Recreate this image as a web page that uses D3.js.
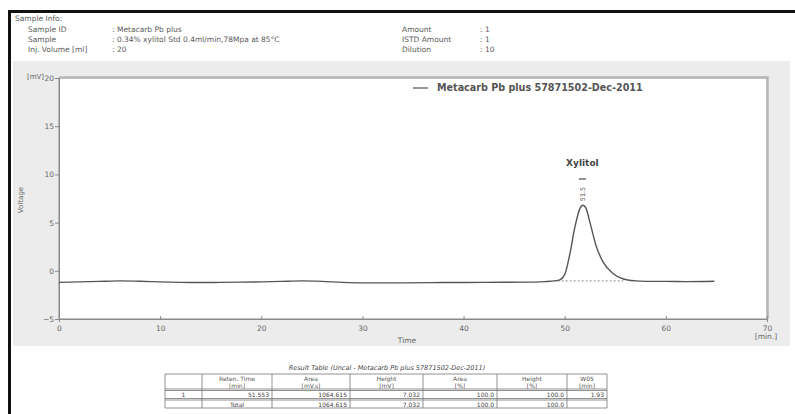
<!DOCTYPE html>
<html><head><meta charset="utf-8">
<script src="https://cdn.jsdelivr.net/npm/d3@7"></script>
<style>
html,body{margin:0;padding:0;background:#fff;}
svg text{font-family:"DejaVu Sans",Verdana,sans-serif;}
</style></head>
<body>
<svg id="c" width="795" height="414"></svg>
<script>
// ---- data ----
const times   = [0, 2, 4, 6, 8, 10, 12, 14, 16, 18, 20, 22, 24, 26, 28, 30, 34, 38, 42, 46, 48, 49, 49.5, 50, 50.5, 51, 51.5, 51.8, 52.1, 52.5, 53.1, 53.8, 54.8, 55.8, 57, 58, 60, 62, 64.8];
const voltage = [-1.2, -1.15, -1.1, -1.05, -1.08, -1.15, -1.2, -1.22, -1.2, -1.18, -1.15, -1.1, -1.05, -1.1, -1.2, -1.25, -1.25, -1.22, -1.2, -1.18, -1.12, -1.05, -0.95, -0.4, 1.7, 4.5, 6.45, 6.8, 6.5, 5.0, 2.6, 0.9, -0.3, -0.85, -1.05, -1.1, -1.1, -1.12, -1.08];
const baselineStart = 49.3, baselineEnd = 55.8, baselineLevel = -1.05;
const peakName = "Xylitol", peakTime = 51.55, peakLabel = "51.5";
const xTicks = [0, 10, 20, 30, 40, 50, 60, 70];
const yTicks = [-5, 0, 5, 10, 15, 20];
const seriesName = "Metacarb Pb plus 57871502-Dec-2011";
const infoLeftKeys = ["Sample ID", "Sample", "Inj. Volume [ml]"];
const infoLeftVals = [": Metacarb Pb plus", ": 0.34% xylitol Std  0.4ml/min,78Mpa at 85°C", ": 20"];
const infoRightKeys = ["Amount", "ISTD Amount", "Dilution"];
const infoRightVals = [": 1", ": 1", ": 10"];
const tableTitle = "Result Table (Uncal - Metacarb Pb plus 57871502-Dec-2011)";
const tableHead1 = ["", "Reten. Time", "Area", "Height", "Area", "Height", "W05"];
const tableHead2 = ["", "[min]", "[mV.s]", "[mV]", "[%]", "[%]", "[min]"];
const tableRow1 = ["1", "51.553", "1064.615", "7.032", "100.0", "100.0", "1.93"];
const tableRow2 = ["", "Total", "1064.615", "7.032", "100.0", "100.0", ""];

// ---- layout ----
const svg = d3.select("#c");
const txt = "#5a5a5a";
const L = 59, R = 767, T = 78, B = 319;

// black frame
svg.append("rect").attr("x", 8).attr("y", 10).attr("width", 3).attr("height", 404).attr("fill", "#111");
svg.append("rect").attr("x", 8).attr("y", 10).attr("width", 787).attr("height", 3).attr("fill", "#111");

// header info
svg.append("text").attr("x", 15).attr("y", 21).attr("font-size", 7.5).attr("fill", txt).text("Sample Info:");
infoLeftKeys.forEach((k, i) => {
  svg.append("text").attr("x", 28).attr("y", 32 + i * 10).attr("font-size", 7.5).attr("fill", txt).text(k);
  svg.append("text").attr("x", 112).attr("y", 32 + i * 10).attr("font-size", 7.5).attr("fill", txt).text(infoLeftVals[i]);
});
infoRightKeys.forEach((k, i) => {
  svg.append("text").attr("x", 402).attr("y", 32 + i * 10).attr("font-size", 7.5).attr("fill", txt).text(k);
  svg.append("text").attr("x", 480).attr("y", 32 + i * 10).attr("font-size", 7.5).attr("fill", txt).text(infoRightVals[i]);
});

// grey panel
svg.append("rect").attr("x", 13).attr("y", 61).attr("width", 777).attr("height", 285).attr("fill", "#ececec");
// plot area
svg.append("rect").attr("x", L).attr("y", T).attr("width", R - L).attr("height", B - T)
  .attr("fill", "#fff").attr("stroke", "#9a9a9a").attr("stroke-width", 1.2);
svg.append("path").attr("d", `M${L},${T - 1}H${R + 1}V${B}`).attr("fill", "none").attr("stroke", "#b5b5b5").attr("stroke-width", 1.5);

const x = d3.scaleLinear().domain([0, 70]).range([L, R]);
const y = d3.scaleLinear().domain([-5, 20]).range([B, T]);

// axes
const xAxis = svg.append("g").attr("transform", `translate(0,${B})`)
  .call(d3.axisBottom(x).tickValues(xTicks).tickSize(3).tickPadding(2));
const yAxis = svg.append("g").attr("transform", `translate(${L},0)`)
  .call(d3.axisLeft(y).tickValues(yTicks).tickSize(4).tickPadding(1));
[xAxis, yAxis].forEach(g => {
  g.select(".domain").attr("stroke", "#8a8a8a");
  g.selectAll(".tick line").attr("stroke", "#8a8a8a");
  g.selectAll(".tick text").attr("fill", "#666").attr("font-size", 7.5)
    .attr("font-family", "DejaVu Sans, sans-serif");
});
xAxis.selectAll(".tick line").attr("y2", -3);
xAxis.selectAll(".tick text").attr("dy", "0.9em");
svg.append("text").attr("x", 27).attr("y", 79).attr("font-size", 7).attr("fill", "#666").text("[mV]");
svg.append("text").attr("transform", "translate(23,200) rotate(-90)").attr("text-anchor", "middle")
  .attr("font-size", 7).attr("fill", "#666").text("Voltage");
svg.append("text").attr("x", 407).attr("y", 343).attr("text-anchor", "middle").attr("font-size", 7.5).attr("fill", "#666").text("Time");
svg.append("text").attr("x", 766).attr("y", 339).attr("text-anchor", "middle").attr("font-size", 7.5).attr("fill", "#666").text("[min.]");

// baseline (dotted)
svg.append("line").attr("x1", x(baselineStart)).attr("x2", x(baselineEnd))
  .attr("y1", y(baselineLevel)).attr("y2", y(baselineLevel))
  .attr("stroke", "#888").attr("stroke-width", 1).attr("stroke-dasharray", "2,2");

// trace
const data = times.map((t, i) => [t, voltage[i]]);
svg.append("path").datum(data)
  .attr("d", d3.line().x(d => x(d[0])).y(d => y(d[1])).curve(d3.curveMonotoneX))
  .attr("fill", "none").attr("stroke", "#555").attr("stroke-width", 1.4);

// peak annotation
const px = x(peakTime) + 2;
svg.append("text").attr("x", px).attr("y", 166).attr("text-anchor", "middle")
  .attr("font-size", 9).attr("font-weight", "bold").attr("fill", "#444").text(peakName);
svg.append("line").attr("x1", px - 3.5).attr("x2", px + 3.5).attr("y1", 179).attr("y2", 179)
  .attr("stroke", "#555").attr("stroke-width", 1.3);
svg.append("text").attr("transform", `translate(${px + 2.5},194) rotate(-90)`).attr("text-anchor", "middle")
  .attr("font-size", 6.5).attr("fill", "#555").text(peakLabel);

// legend
svg.append("line").attr("x1", x(35.0)).attr("x2", x(36.5)).attr("y1", 88).attr("y2", 88)
  .attr("stroke", "#555").attr("stroke-width", 1.2);
svg.append("text").attr("x", 437).attr("y", 91).attr("font-size", 9.6).attr("font-weight", "bold")
  .attr("fill", "#555").text(seriesName);

// result table
svg.append("text").attr("x", 387).attr("y", 370).attr("text-anchor", "middle").attr("font-size", 6.5)
  .attr("font-style", "italic").attr("fill", "#444").text(tableTitle);
const colX = [165, 202, 272, 350, 423, 497, 567, 607];
const rowY = [374, 389, 398.5, 408];
const tg = svg.append("g").attr("stroke", "#777").attr("stroke-width", 0.8);
colX.forEach(cx => tg.append("line").attr("x1", cx).attr("x2", cx).attr("y1", rowY[0]).attr("y2", rowY[3]));
rowY.forEach(ry => tg.append("line").attr("x1", colX[0]).attr("x2", colX[7]).attr("y1", ry).attr("y2", ry));
tg.append("line").attr("x1", colX[0]).attr("x2", colX[7]).attr("y1", rowY[1] + 1.5).attr("y2", rowY[1] + 1.5);
tg.append("line").attr("x1", colX[0]).attr("x2", colX[7]).attr("y1", rowY[2] + 1.5).attr("y2", rowY[2] + 1.5);
tableHead1.forEach((h, i) => {
  const cx = (colX[i] + colX[i + 1]) / 2;
  svg.append("text").attr("x", cx).attr("y", 381).attr("text-anchor", "middle").attr("font-size", 6).attr("fill", "#555").text(h);
  svg.append("text").attr("x", cx).attr("y", 387.5).attr("text-anchor", "middle").attr("font-size", 6).attr("fill", "#555").text(tableHead2[i]);
});
[tableRow1, tableRow2].forEach((row, r) => {
  row.forEach((v, i) => {
    const isTotal = (r === 1 && i === 1);
    const t = svg.append("text").attr("y", rowY[r + 1] + 8).attr("font-size", 6).attr("fill", "#444").text(v);
    if (i === 0) t.attr("x", (colX[0] + colX[1]) / 2).attr("text-anchor", "middle");
    else if (isTotal) t.attr("x", (colX[1] + colX[2]) / 2).attr("text-anchor", "middle");
    else t.attr("x", colX[i + 1] - 3).attr("text-anchor", "end");
  });
});
</script>
</body></html>
